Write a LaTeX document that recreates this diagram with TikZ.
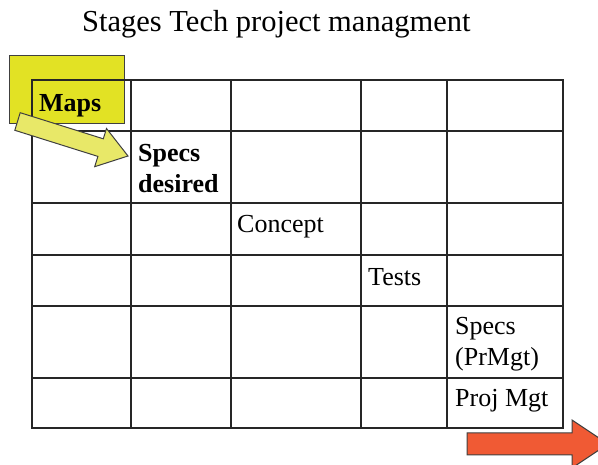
\documentclass[tikz,border=0pt]{standalone}
\usepackage{fontspec}
\setmainfont{Liberation Serif}
\begin{document}
\begin{tikzpicture}[x=1pt,y=-1pt,
  cell/.style={inner sep=0pt,anchor=base west,font=\fontsize{26}{31}\selectfont},
  boldcell/.style={cell,font=\fontsize{26}{31}\selectfont\bfseries},
  gridline/.style={line width=1.3pt,black!85},
  frame/.style={line width=2pt,black!85}]
\definecolor{mapsyellow}{RGB}{226,226,36}
\definecolor{arrowyellow}{RGB}{232,232,104}
\definecolor{arrowred}{RGB}{240,90,52}
\useasboundingbox (0,0) rectangle (598,465);
\clip (0,0) rectangle (598,465);

% title
\node[inner sep=0pt,anchor=base west,font=\fontsize{30.5}{36}\selectfont] (title) at (82,32) {Stages Tech project managment};

% highlighted box behind the first cell
\draw[fill=mapsyellow,draw=black!75,line width=1pt] (9,56) rectangle (124,124);

% table grid
\foreach \x in {131,231,361,447}
  \draw[gridline] (\x,80) -- (\x,428);
\foreach \y in {131,203,255,306,378}
  \draw[gridline] (32,\y) -- (563,\y);
\draw[frame] (32,80) rectangle (563,428);

% cell contents
\node[boldcell] (maps) at (39,112) {Maps};
\node[boldcell] (specsdes) at (138,162) {\begin{tabular}[t]{@{}l@{}}Specs\\desired\end{tabular}};
\node[cell] (concept) at (237,233) {Concept};
\node[cell] (tests) at (368,286) {Tests};
\node[cell] (specspm) at (455,335) {\begin{tabular}[t]{@{}l@{}}Specs\\(PrMgt)\end{tabular}};
\node[cell] (projmgt) at (455,407) {Proj Mgt};

% arrow from Maps towards the desired specs
\draw[fill=arrowyellow,draw=black!75,line width=1pt,line join=miter]
  (20.2,112.7) -- (103.3,138.8) -- (106.5,128.5) -- (128,156)
  -- (94.7,166.7) -- (97.9,156.4) -- (14.8,130.3) -- cycle;

% arrow along the time axis
\draw[fill=arrowred,draw=black!75,line width=1pt,line join=miter]
  (467,433) -- (572,433) -- (572,420) -- (608,444) -- (572,468)
  -- (572,455) -- (467,455) -- cycle;
\end{tikzpicture}
\end{document}
